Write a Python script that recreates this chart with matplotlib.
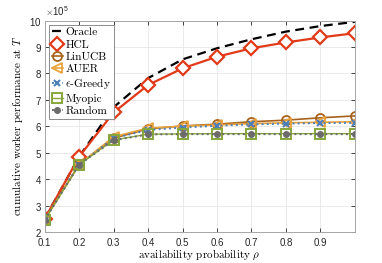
import numpy as np
import matplotlib
matplotlib.use("Agg")
import matplotlib.pyplot as plt
from matplotlib.ticker import ScalarFormatter

plt.rcParams.update({"mathtext.fontset": "cm", "axes.unicode_minus": False})

# availability probability
rho = [0.1, 0.2, 0.3, 0.4, 0.5, 0.6, 0.7, 0.8, 0.9, 1.0]

# cumulative worker performance at T
oracle = [2.50e5, 4.85e5, 6.72e5, 7.82e5, 8.53e5, 8.95e5, 9.29e5, 9.58e5, 9.79e5, 9.95e5]
hcl = [2.50e5, 4.85e5, 6.52e5, 7.56e5, 8.19e5, 8.63e5, 8.95e5, 9.17e5, 9.36e5, 9.52e5]
linucb = [2.48e5, 4.55e5, 5.55e5, 5.90e5, 6.01e5, 6.08e5, 6.17e5, 6.23e5, 6.32e5, 6.39e5]
auer = [2.46e5, 4.56e5, 5.60e5, 5.93e5, 6.00e5, 6.05e5, 6.10e5, 6.13e5, 6.15e5, 6.17e5]
egreedy = [2.46e5, 4.55e5, 5.55e5, 5.86e5, 5.95e5, 6.02e5, 6.07e5, 6.10e5, 6.12e5, 6.13e5]
myopic = [2.46e5, 4.55e5, 5.48e5, 5.70e5, 5.71e5, 5.72e5, 5.72e5, 5.72e5, 5.72e5, 5.72e5]
random_ = [2.46e5, 4.55e5, 5.47e5, 5.69e5, 5.70e5, 5.70e5, 5.70e5, 5.70e5, 5.70e5, 5.70e5]

xticks = [0.1, 0.2, 0.3, 0.4, 0.5, 0.6, 0.7, 0.8, 0.9]
yticks = [2e5, 3e5, 4e5, 5e5, 6e5, 7e5, 8e5, 9e5, 10e5]

fig = plt.figure(figsize=(3.82, 2.63), dpi=100)
ax = fig.add_axes([0.117, 0.118, 0.812, 0.804])

ax.plot(rho, oracle, '--', color='k', lw=1.6, label='Oracle', dashes=(4, 2.5))
ax.plot(rho, hcl, '-', color='#E23A18', lw=1.6, marker='D', ms=7, mfc='white',
        mew=1.6, label='HCL')
ax.plot(rho, linucb, '-', color='#A8621C', lw=1.2, marker='o', ms=6.5, mfc='none',
        mew=1.3, label='LinUCB')
ax.plot(rho, auer, '-', color='#E9A23B', lw=1.2, marker='<', ms=6.5, mfc='none',
        mew=1.3, label='AUER')
ax.plot(rho, egreedy, ':', color='#4F7FB9', lw=1.4, marker='x', ms=4.5, mew=1.5,
        label=r'$\epsilon$-Greedy')
ax.plot(rho, myopic, '-', color='#86A63A', lw=1.0, marker='s', ms=6.5, mfc='none',
        mew=1.4, label='Myopic')
ax.plot(rho, random_, ':', color='#6B6B6B', lw=1.4, marker='o', ms=4,
        label='Random')

ax.set_xlim(0.1, 1.0)
ax.set_ylim(2e5, 10e5)
ax.set_xticks(xticks)
ax.set_yticks(yticks)
fmt = ScalarFormatter(useMathText=True)
fmt.set_powerlimits((5, 5))
ax.yaxis.set_major_formatter(fmt)
ax.set_xticklabels(['%.1f' % v for v in xticks])

for lab in ax.get_xticklabels() + ax.get_yticklabels():
    lab.set_fontfamily('Liberation Sans')
ax.tick_params(direction='in', length=3, width=0.6, colors='#262626', labelsize=7,
               top=True, right=True, pad=2)
ax.tick_params(axis='x', pad=4)
ax.yaxis.get_offset_text().set_fontsize(7)
ax.yaxis.get_offset_text().set_fontfamily('Liberation Sans')
ax.grid(True, color='#e6e6e6', lw=0.6)
ax.set_axisbelow(True)
for s in ax.spines.values():
    s.set_color('#a6a6a6')
    s.set_linewidth(0.7)

ax.set_xlabel(r'availability probability $\rho$', fontfamily='cmr10', fontsize=8,
              labelpad=0)
ax.set_ylabel(r'cumulative worker performance at $T$', fontfamily='cmr10',
              fontsize=8, labelpad=3)

leg = ax.legend(loc='upper left', prop={'family': 'cmr10', 'size': 8.2},
                handlelength=1.0, handletextpad=0.2, borderpad=0.25,
                labelspacing=0.2, borderaxespad=0.35, fancybox=False,
                framealpha=1)
leg.get_frame().set_edgecolor('#8c8c8c')
leg.get_frame().set_linewidth(0.7)

fig.savefig('out.png', dpi=100)
